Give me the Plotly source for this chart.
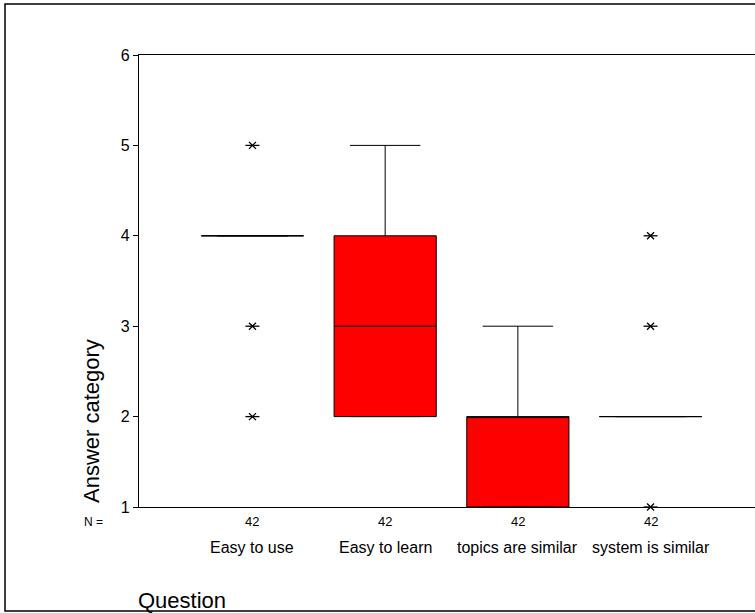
import plotly.graph_objects as go

# ---- data ----
categories = ["Easy to use", "Easy to learn", "topics are similar", "system is similar"]
n_values = [42, 42, 42, 42]
lower_fence = [4, 2, 1, 2]
q1_values = [4, 2, 1, 2]
median_values = [4, 3, 2, 2]
q3_values = [4, 4, 2, 2]
upper_fence = [4, 5, 3, 2]
extreme_x = ["Easy to use", "Easy to use", "Easy to use",
             "system is similar", "system is similar", "system is similar"]
extreme_y = [5, 3, 2, 4, 3, 1]
y_ticks = [1, 2, 3, 4, 5, 6]

W, H = 755, 613
ML, MR, MT, MB = 139, 0, 55, 106
PW = W - ML - MR
PH = H - MT - MB


def px_x(x):
    return (x - ML) / PW


def px_y(y):
    return (H - MB - y) / PH


fig = go.Figure()

fig.add_trace(go.Box(
    x=categories,
    q1=q1_values, median=median_values, q3=q3_values,
    lowerfence=lower_fence, upperfence=upper_fence,
    fillcolor="#ff0000",
    line=dict(color="black", width=1),
    width=0.77,
    whiskerwidth=0.69,
    boxpoints=False,
    hoverinfo="skip",
    showlegend=False,
))

# extreme values drawn as asterisks (x + horizontal bar)
for sym, size in [("x-thin-open", 7), ("line-ew-open", 10)]:
    fig.add_trace(go.Scatter(
        x=extreme_x, y=extreme_y, mode="markers",
        marker=dict(symbol=sym, size=size, color="black",
                    line=dict(color="black", width=1.3)),
        cliponaxis=False, showlegend=False, hoverinfo="skip",
    ))

annotations = []
font = "Liberation Sans, Arial, sans-serif"
annotations.append(dict(text="N =", xref="paper", yref="paper",
                        x=px_x(93), y=px_y(521.5), showarrow=False,
                        xanchor="center", yanchor="middle",
                        font=dict(family=font, size=12, color="black")))
for c, n in zip(categories, n_values):
    annotations.append(dict(text=str(n), xref="x", yref="paper",
                            x=c, y=px_y(521.5), showarrow=False,
                            xanchor="center", yanchor="middle",
                            font=dict(family=font, size=13, color="black")))
    annotations.append(dict(text=c, xref="x", yref="paper",
                            x=c, y=px_y(547), showarrow=False,
                            xanchor="center", yanchor="middle",
                            font=dict(family=font, size=16, color="black")))
annotations.append(dict(text="Question", xref="paper", yref="paper",
                        x=px_x(136), y=px_y(600), showarrow=False,
                        xanchor="left", yanchor="middle",
                        font=dict(family=font, size=22, color="black")))
annotations.append(dict(text="Answer category", xref="paper", yref="paper",
                        x=px_x(91), y=px_y(421), showarrow=False,
                        textangle=-90,
                        xanchor="center", yanchor="middle",
                        font=dict(family=font, size=22, color="black")))

shapes = [dict(type="rect", xref="paper", yref="paper",
               x0=px_x(5), x1=px_x(760), y0=px_y(611), y1=px_y(4),
               line=dict(color="black", width=1.5), layer="below")]

fig.update_layout(
    width=W, height=H,
    margin=dict(l=ML, r=MR, t=MT, b=MB, pad=0),
    paper_bgcolor="white", plot_bgcolor="white",
    annotations=annotations, shapes=shapes,
    xaxis=dict(type="category", categoryorder="array", categoryarray=categories,
               range=[-0.855, 3.787], showticklabels=False, ticks="",
               showgrid=False, zeroline=False,
               showline=True, linecolor="black", linewidth=1.3, mirror=True),
    yaxis=dict(range=[1, 6], tickvals=y_ticks, ticks="outside", ticklen=5,
               tickcolor="black", tickwidth=1,
               tickfont=dict(family=font, size=16, color="black"),
               showgrid=False, zeroline=False,
               showline=True, linecolor="black", linewidth=1.3),
    showlegend=False,
)

fig.write_html("out.html")
